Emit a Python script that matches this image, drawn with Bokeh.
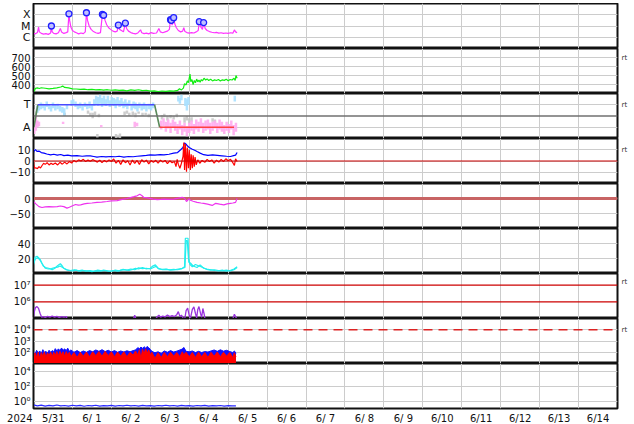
from bokeh.plotting import figure
from bokeh.layouts import column
from bokeh.models import FixedTicker, Span, LinearAxis, Range1d
from bokeh.embed import file_html
from bokeh.resources import INLINE

FONT = "DejaVu Sans"
NB = "\u00a0"

# x axis: days since 2024-05-31 00:00 UT (first label also carries the year)
DAY_LABELS = ["2024" + NB * 3 + "5/31", "6/ 1", "6/ 2", "6/ 3", "6/ 4", "6/ 5", "6/ 6", "6/ 7",
              "6/ 8", "6/ 9", "6/10", "6/11", "6/12", "6/13", "6/14"]
DAY_CENTERS = [0.06, 1.5, 2.5, 3.5, 4.5, 5.5, 6.5, 7.5, 8.5, 9.5, 10.5, 11.5, 12.5, 13.5, 14.5]
DAY_BOUNDS = [1, 2, 3, 4, 5, 6, 7, 8, 9, 10, 11, 12, 13, 14]

# ---- panel 1: X-ray flux (W/m2) ----
XRAY = [(0.00, 2.2e-6), (0.05, 2.0e-6), (0.10, 2.6e-6), (0.13, 8.0e-6), (0.15, 3.0e-6),
        (0.20, 2.2e-6), (0.26, 1.9e-6), (0.32, 2.1e-6), (0.38, 1.8e-6), (0.44, 2.4e-6),
        (0.46, 1.0e-5), (0.48, 3.0e-6), (0.52, 2.2e-6), (0.58, 2.0e-6), (0.64, 2.5e-6),
        (0.69, 6.0e-6), (0.72, 3.0e-6), (0.78, 2.2e-6), (0.84, 2.6e-6), (0.88, 3.0e-6),
        (0.91, 1.2e-4), (0.93, 3.0e-5), (0.96, 8.0e-6), (1.00, 4.0e-6), (1.05, 3.0e-6),
        (1.10, 2.5e-6), (1.16, 2.0e-6), (1.22, 2.4e-6), (1.28, 2.1e-6), (1.33, 3.0e-6),
        (1.36, 1.5e-4), (1.39, 3.0e-5), (1.43, 1.0e-5), (1.48, 5.0e-6), (1.54, 3.2e-6),
        (1.60, 2.5e-6), (1.66, 2.2e-6), (1.72, 2.6e-6), (1.77, 1.1e-4), (1.80, 9.0e-5),
        (1.84, 3.0e-5), (1.88, 1.3e-5), (1.93, 7.0e-6), (1.98, 5.0e-6), (2.04, 3.5e-6),
        (2.10, 3.0e-6), (2.15, 3.5e-6), (2.18, 1.2e-5), (2.21, 5.0e-6), (2.26, 4.0e-6),
        (2.31, 3.0e-6), (2.36, 1.8e-5), (2.39, 6.0e-6), (2.44, 3.5e-6), (2.50, 2.6e-6),
        (2.56, 2.2e-6), (2.62, 2.0e-6), (2.68, 2.4e-6), (2.75, 4.6e-6), (2.78, 2.5e-6),
        (2.84, 2.1e-6), (2.90, 2.3e-6), (2.96, 2.0e-6), (3.02, 2.6e-6), (3.08, 2.2e-6),
        (3.16, 2.4e-6), (3.22, 6.0e-6), (3.26, 3.0e-6), (3.32, 2.5e-6), (3.38, 3.0e-6),
        (3.44, 3.5e-6), (3.49, 5.0e-6), (3.52, 3.6e-5), (3.54, 3.2e-5), (3.56, 1.2e-5),
        (3.60, 5.5e-5), (3.63, 1.5e-5), (3.67, 7.0e-6), (3.72, 4.0e-6), (3.78, 3.0e-6),
        (3.83, 3.5e-6), (3.86, 7.0e-6), (3.89, 3.2e-6), (3.94, 2.6e-6), (4.00, 2.3e-6),
        (4.06, 2.6e-6), (4.12, 2.4e-6), (4.18, 3.0e-6), (4.23, 4.0e-6), (4.26, 2.4e-5),
        (4.30, 8.0e-6), (4.34, 5.0e-6), (4.37, 2.0e-5), (4.41, 6.0e-6), (4.46, 4.0e-6),
        (4.52, 3.2e-6), (4.58, 2.8e-6), (4.64, 2.5e-6), (4.70, 2.7e-6), (4.76, 2.3e-6),
        (4.82, 2.5e-6), (4.88, 2.2e-6), (4.94, 2.4e-6), (5.00, 2.2e-6), (5.06, 2.5e-6),
        (5.12, 2.3e-6), (5.16, 4.5e-6), (5.19, 3.0e-6), (5.23, 2.6e-6)]
FLARES = [(0.46, 1.0e-5), (0.91, 1.2e-4), (1.36, 1.5e-4), (1.77, 1.1e-4), (1.80, 9.0e-5),
          (2.18, 1.2e-5), (2.36, 1.8e-5), (3.52, 3.6e-5), (3.54, 3.2e-5), (3.60, 5.5e-5),
          (4.26, 2.4e-5), (4.37, 2.0e-5)]
XRAY_TICKS = [1e-6, 1e-5, 1e-4]
XRAY_LABELS = ["C", "M", "X"]

# ---- panel 2: solar wind speed (km/s) ----
SPEED = [(0.00, 352), (0.02, 325), (0.05, 358), (0.10, 362), (0.15, 356), (0.20, 364),
         (0.30, 358), (0.40, 352), (0.50, 356), (0.60, 362), (0.70, 372), (0.75, 382),
         (0.80, 368), (0.90, 362), (1.00, 352), (1.10, 350), (1.20, 346), (1.30, 348),
         (1.40, 342), (1.50, 346), (1.60, 340), (1.70, 344), (1.80, 338), (1.90, 342),
         (2.00, 336), (2.10, 340), (2.20, 334), (2.30, 338), (2.40, 330), (2.50, 340),
         (2.60, 334), (2.70, 342), (2.80, 332), (2.90, 336), (3.00, 326), (3.10, 330),
         (3.20, 322), (3.30, 328), (3.40, 324), (3.50, 330), (3.60, 326), (3.70, 334),
         (3.75, 352), (3.80, 340), (3.85, 360), (3.88, 410), (3.92, 395), (3.95, 440),
         (3.98, 420), (4.00, 470), (4.02, 515), (4.04, 430), (4.07, 455), (4.10, 400),
         (4.13, 445), (4.16, 420), (4.19, 460), (4.22, 430), (4.25, 450), (4.28, 425),
         (4.31, 455), (4.34, 440), (4.38, 470), (4.42, 450), (4.46, 462), (4.50, 445),
         (4.55, 458), (4.60, 440), (4.65, 452), (4.70, 445), (4.75, 455), (4.80, 440),
         (4.85, 452), (4.90, 446), (4.95, 458), (5.00, 442), (5.05, 456), (5.10, 450),
         (5.15, 470), (5.18, 445), (5.20, 500), (5.23, 470)]
SPEED_TICKS = [400, 500, 600, 700]
SPEED_LABELS = ["400", "500", "600", "700"]

# ---- panel 3: IMF sector (T = toward, A = away) ----
SECTOR_T = [0.01, 0.11, 3.11, 3.24, 5.15]
SECTOR_V = [-1, 1, 1, -1, -1]
SECTOR_C = ["#5a8a5a", "#4a4aff", "#5a8a5a", "#ff4040"]
PHI_T = [(0.10, 0.3, 0.9), (0.14, 0.5, 1.0), (0.19, 0.6, 1.2), (0.24, 0.7, 1.1), (0.29, 0.5, 1.0),
         (0.34, 0.8, 1.3), (0.40, 0.6, 1.0), (0.45, 0.4, 0.9), (0.50, 0.7, 1.2), (0.56, 0.5, 1.0),
         (0.62, 0.6, 1.1), (0.68, 0.4, 0.9), (0.74, 0.3, 0.8), (0.79, 0.0, 0.7), (0.86, 0.6, 1.0),
         (0.98, 0.9, 1.4), (1.02, 1.0, 1.5), (1.08, 0.8, 1.3), (1.14, 0.6, 1.1), (1.20, 0.7, 1.2),
         (1.26, 0.5, 1.0), (1.32, 0.8, 1.2), (1.38, 0.6, 1.1), (1.44, 0.7, 1.3), (1.50, 0.5, 1.0),
         (1.56, 0.9, 1.5), (1.61, 1.0, 1.8), (1.66, 0.9, 1.7), (1.71, 1.1, 1.9), (1.76, 0.8, 1.6),
         (1.81, 1.0, 1.8), (1.86, 0.9, 1.5), (1.91, 1.1, 1.8), (1.96, 0.8, 1.4), (2.01, 1.0, 1.7),
         (2.06, 0.9, 1.6), (2.11, 0.7, 1.5), (2.16, 1.0, 1.7), (2.21, 0.8, 1.4), (2.26, 0.9, 1.6),
         (2.31, 0.7, 1.3), (2.36, 0.8, 1.5), (2.41, 0.6, 1.2), (2.46, 0.9, 1.4), (2.52, 0.5, 1.1),
         (2.57, 0.7, 1.3), (2.62, 0.6, 1.2), (2.67, 0.4, 1.0), (2.72, 0.7, 1.2), (2.78, 0.5, 1.1),
         (2.84, 0.6, 1.2), (2.90, 0.4, 1.0), (2.96, 0.6, 1.1), (3.02, 0.5, 1.0), (3.07, 0.7, 1.2),
         (3.72, 1.3, 1.8), (3.76, 1.1, 1.6), (3.80, 1.4, 1.9), (3.90, 0.9, 1.6), (3.94, 0.5, 1.5),
         (3.98, 1.0, 1.7), (5.17, 1.3, 1.8)]
PHI_M = [(0.02, 0.1, 0.6), (0.06, -0.1, 0.4), (0.80, 0.0, 0.3), (1.40, 0.2, 0.5), (1.46, 0.0, 0.3),
         (1.52, -0.2, 0.3), (1.58, 0.1, 0.4), (1.64, -1.9, -1.6), (1.68, -0.1, 0.2),
         (2.12, -1.95, -1.6), (2.17, -1.9, -1.7), (2.22, -1.95, -1.55), (2.34, 0.1, 0.4),
         (2.40, 0.2, 0.5), (2.46, 0.0, 0.3), (2.55, 0.1, 0.4), (2.62, -0.1, 0.3), (2.70, 0.2, 0.4),
         (2.80, 0.0, 0.3), (2.88, 0.1, 0.3), (2.96, -0.1, 0.2), (3.30, -0.3, 0.1), (3.36, -0.1, 0.2),
         (3.44, -0.4, 0.0), (3.52, -0.2, 0.1), (3.60, -0.3, 0.0), (3.68, -0.1, 0.2),
         (3.88, -0.6, -0.1), (3.94, -0.4, 0.0), (4.00, -0.7, -0.2), (4.06, -0.5, -0.1),
         (4.60, -0.5, -0.2), (4.66, -0.6, -0.3)]
PHI_A = [(0.02, -1.6, -0.3), (0.06, -1.3, 0.0), (0.10, -1.0, -0.4), (0.14, -0.9, -0.5),
         (0.76, -0.7, -0.5), (1.74, -1.0, -0.8), (2.60, -1.0, -0.5), (2.66, -0.9, -0.6),
         (3.28, -1.2, -0.4), (3.34, -0.9, -0.2), (3.40, -1.4, -0.5), (3.46, -1.1, -0.3),
         (3.52, -1.5, -0.6), (3.58, -1.0, -0.3), (3.64, -1.3, -0.5), (3.70, -1.6, -0.7),
         (3.76, -1.2, -0.4), (3.82, -1.7, -0.8), (3.88, -1.4, -0.6), (3.94, -1.8, -0.9),
         (4.00, -1.5, -0.6), (4.06, -1.3, -0.4), (4.12, -1.6, -0.7), (4.18, -1.2, -0.3),
         (4.24, -1.4, -0.5), (4.30, -1.1, -0.2), (4.36, -1.5, -0.6), (4.42, -1.3, -0.4),
         (4.48, -1.2, -0.3), (4.54, -1.6, -0.6), (4.60, -1.3, -0.5), (4.66, -1.1, -0.4),
         (4.72, -1.5, -0.6), (4.78, -1.2, -0.3), (4.84, -1.4, -0.5), (4.90, -1.6, -0.8),
         (4.96, -1.3, -0.5), (5.02, -1.5, -0.7), (5.08, -1.2, -0.4), (5.14, -1.7, -0.8),
         (5.20, -1.4, -0.6)]
SECTOR_TICKS = [-1, 1]
SECTOR_LABELS = ["A", "T"]

# ---- panel 4: IMF Bt (blue) and Bz (red), nT ----
BT = [(0.00, 7.5), (0.02, 9.5), (0.05, 10.0), (0.09, 8.5), (0.14, 8.8), (0.20, 7.5), (0.27, 7.0),
      (0.34, 6.2), (0.44, 5.5), (0.52, 6.0), (0.61, 5.2), (0.70, 5.8), (0.78, 4.8), (0.88, 5.2),
      (0.98, 4.5), (1.12, 4.8), (1.25, 4.2), (1.36, 4.6), (1.46, 4.5), (1.55, 4.0), (1.63, 3.5),
      (1.75, 4.0), (1.86, 3.6), (1.98, 4.0), (2.10, 3.8), (2.20, 4.2), (2.32, 3.5), (2.44, 4.0),
      (2.56, 3.8), (2.66, 4.2), (2.78, 4.6), (2.90, 5.0), (3.00, 5.5), (3.12, 5.2), (3.25, 5.6),
      (3.35, 5.4), (3.48, 6.0), (3.60, 7.0), (3.70, 7.5), (3.78, 10.0), (3.84, 12.0), (3.88, 16.0),
      (3.92, 15.0), (3.95, 13.5), (4.00, 12.0), (4.08, 10.5), (4.14, 9.5), (4.20, 8.4), (4.28, 7.0),
      (4.37, 5.6), (4.48, 5.0), (4.60, 5.4), (4.72, 5.0), (4.84, 4.6), (4.96, 4.2), (5.06, 4.0),
      (5.14, 4.8), (5.19, 5.2), (5.23, 7.5)]
BZ = [(0.00, 0.5), (0.01, -4.0), (0.03, -6.5), (0.06, -6.0), (0.10, -6.8), (0.14, -5.0),
      (0.18, -6.2), (0.22, -4.0), (0.26, -2.0), (0.30, -3.0), (0.35, -1.5), (0.40, -3.5),
      (0.45, -2.0), (0.50, -3.2), (0.56, -1.8), (0.62, -3.5), (0.68, -1.2), (0.74, -2.8),
      (0.80, -1.0), (0.86, -2.6), (0.92, -0.5), (0.98, -1.8), (1.04, 0.5), (1.10, -0.8),
      (1.16, 1.0), (1.22, 0.0), (1.28, 1.5), (1.34, -0.5), (1.40, 0.8), (1.46, -0.2),
      (1.52, 1.2), (1.58, 0.2), (1.64, -1.0), (1.70, 0.8), (1.76, -1.5), (1.82, 0.5),
      (1.88, -0.8), (1.94, 1.0), (2.00, -0.5), (2.06, 1.8), (2.12, -2.0), (2.18, 0.6),
      (2.24, -3.0), (2.30, 1.0), (2.36, -1.5), (2.42, 0.2), (2.48, -3.5), (2.54, 0.8),
      (2.60, -2.2), (2.66, 0.5), (2.72, -3.0), (2.78, 1.2), (2.84, -1.0), (2.90, 0.8),
      (2.96, -2.5), (3.02, 0.4), (3.08, -1.2), (3.14, 0.6), (3.20, -2.0), (3.26, 0.8),
      (3.32, -1.0), (3.38, 0.5), (3.44, -2.4), (3.50, 0.2), (3.56, -1.5), (3.62, -0.5),
      (3.66, -5.0), (3.69, 1.5), (3.72, -3.0), (3.76, -6.4), (3.80, -2.0), (3.84, 4.0),
      (3.86, 16.5), (3.88, -8.0), (3.90, 15.0), (3.93, -9.5), (3.95, 12.0), (3.98, -6.5),
      (4.00, 10.0), (4.03, -8.0), (4.05, 6.0), (4.08, -6.5), (4.10, 5.0), (4.13, -5.0),
      (4.15, 3.5), (4.18, -3.5), (4.22, 1.0), (4.27, -2.0), (4.33, 0.5), (4.40, -1.2),
      (4.46, 1.5), (4.52, -0.5), (4.58, 1.0), (4.64, -2.0), (4.70, 0.8), (4.76, -1.0),
      (4.82, 1.5), (4.88, -0.6), (4.94, 2.0), (5.00, 0.2), (5.06, 1.5), (5.12, -1.5),
      (5.16, -4.0), (5.19, 2.0), (5.23, -0.5)]
IMF_TICKS = [-10, 0, 10]
IMF_LABELS = ["\u221210", "0", "10"]

# ---- panel 5: Dst (nT) ----
DST = [(0.00, -10), (0.06, -18), (0.14, -27), (0.22, -30), (0.30, -28), (0.40, -27), (0.50, -28),
       (0.61, -27), (0.69, -25), (0.78, -27), (0.86, -32), (0.92, -29), (0.99, -25), (1.08, -20),
       (1.15, -22), (1.21, -21), (1.30, -18), (1.38, -16), (1.50, -15), (1.63, -13), (1.75, -12),
       (1.89, -10), (2.00, -8), (2.15, -7), (2.25, -4), (2.32, -2), (2.40, 0), (2.49, 3),
       (2.58, 6), (2.66, 9), (2.73, 14), (2.78, 10), (2.83, 4), (2.90, 3), (2.96, 1), (3.07, -2),
       (3.18, -4), (3.27, -3), (3.35, -2), (3.45, -3), (3.60, -2), (3.72, 1), (3.82, 4), (3.88, 1),
       (3.93, -10), (3.99, -1), (4.03, -6), (4.10, -9), (4.20, -13), (4.30, -15), (4.37, -16),
       (4.47, -19), (4.59, -23), (4.68, -16), (4.78, -19), (4.89, -21), (4.97, -18), (5.06, -16),
       (5.12, -15), (5.19, -13), (5.23, 0)]
DST_TICKS = [-50, 0]
DST_LABELS = ["\u221250", "0"]

# ---- panel 6: two cyan traces ----
CYAN_A = [(0.00, 14), (0.02, 20), (0.05, 22), (0.09, 23), (0.13, 21), (0.18, 18), (0.22, 13),
          (0.25, 10), (0.31, 8), (0.39, 7), (0.48, 5), (0.55, 7), (0.61, 10), (0.66, 12), (0.69, 13),
          (0.74, 10), (0.78, 7), (0.86, 5), (0.95, 4), (1.05, 5), (1.15, 3.5), (1.25, 4.5), (1.35, 3),
          (1.45, 4), (1.55, 3), (1.65, 4.5), (1.75, 3.5), (1.85, 4), (1.95, 3), (2.05, 4), (2.15, 3),
          (2.25, 4.5), (2.35, 5), (2.45, 4), (2.55, 5.5), (2.62, 7), (2.70, 6), (2.80, 8), (2.90, 6),
          (3.00, 7), (3.05, 9.5), (3.13, 11.5), (3.20, 7), (3.30, 5.5), (3.40, 6), (3.50, 5),
          (3.60, 5.5), (3.70, 5), (3.80, 6), (3.88, 9), (3.90, 47), (3.97, 47), (3.99, 15),
          (4.03, 14), (4.10, 10), (4.20, 8), (4.28, 11.5), (4.37, 7), (4.45, 6), (4.55, 5), (4.65, 4),
          (4.75, 3.5), (4.85, 4.5), (4.95, 3), (5.05, 4), (5.15, 6), (5.23, 9)]
CYAN_B = [(0.00, 12), (0.03, 17), (0.06, 20), (0.10, 21), (0.15, 19), (0.20, 15), (0.25, 11),
          (0.30, 7), (0.38, 6), (0.46, 6.5), (0.55, 8), (0.62, 8.5), (0.68, 10), (0.75, 8),
          (0.82, 5.5), (0.90, 4), (1.00, 3.5), (1.10, 4.5), (1.20, 3), (1.30, 4), (1.40, 3.5),
          (1.50, 2.5), (1.60, 3.5), (1.70, 3), (1.80, 4.5), (1.90, 3.5), (2.00, 3), (2.10, 4.5),
          (2.20, 3.5), (2.30, 5.5), (2.40, 4.5), (2.50, 6), (2.60, 5), (2.70, 7.5), (2.80, 6.5),
          (2.90, 7), (3.00, 6), (3.08, 8), (3.15, 9.5), (3.22, 6), (3.32, 5), (3.42, 5.5),
          (3.52, 4.5), (3.62, 5), (3.72, 6), (3.82, 7), (3.89, 8), (3.92, 44), (3.95, 44),
          (3.98, 20), (4.02, 12), (4.08, 9), (4.16, 12), (4.25, 10), (4.35, 8), (4.45, 5.5),
          (4.55, 4.5), (4.65, 5), (4.75, 4), (4.85, 3.5), (4.95, 4.5), (5.05, 3.5), (5.15, 5),
          (5.23, 8)]
CYAN_TICKS = [20, 40]
CYAN_LABELS = ["20", "40"]

# ---- panel 7: purple trace (log) ----
PURPLE = [(0.00, 1.2e5), (0.02, 2.5e5), (0.05, 4.5e5), (0.09, 5.2e5), (0.13, 4.0e5), (0.17, 2.0e5),
          (0.21, 1.2e5), (0.26, 1.3e5), (0.30, 1.15e5), (0.36, 1.35e5), (0.42, 1.2e5),
          (0.48, 1.4e5), (0.54, 1.2e5), (0.60, 1.35e5), (0.66, 1.15e5), (0.72, 1.3e5),
          (0.78, 1.2e5), (0.84, 1.3e5), (0.88, 8e4), (1.50, 6e4), (2.55, 7e4), (2.60, 1.6e5),
          (2.64, 8e4), (3.10, 7e4), (3.18, 1.3e5), (3.22, 1.6e5), (3.26, 1.2e5), (3.32, 1.4e5),
          (3.38, 1.25e5), (3.44, 1.6e5), (3.50, 1.3e5), (3.56, 1.5e5), (3.62, 1.3e5),
          (3.68, 1.7e5), (3.72, 2.6e5), (3.76, 1.3e5), (3.80, 1.6e5), (3.84, 1.1e5), (3.88, 8e4),
          (3.92, 3.0e5), (3.96, 4.2e5), (4.00, 1.5e5), (4.03, 1.0e5), (4.08, 3.5e5), (4.12, 5.0e5),
          (4.16, 2.0e5), (4.19, 1.1e5), (4.22, 3.5e5), (4.25, 5.2e5), (4.29, 2.0e5), (4.32, 1.2e5),
          (4.35, 4.0e5), (4.38, 2.0e5), (4.41, 8e4), (5.10, 7e4), (5.16, 1.8e5), (5.19, 1.3e5),
          (5.23, 9e4)]
PURPLE_TICKS = [1e6, 1e7]
PURPLE_LABELS = ["10\u2076", "10\u2077"]

# ---- panel 8: blue / red flux (log) ----
FLUX = [(0.00, 110, 35), (0.04, 70, 90), (0.08, 150, 40), (0.12, 90, 100), (0.16, 130, 30),
        (0.20, 80, 95), (0.24, 170, 45), (0.28, 95, 110), (0.32, 120, 35), (0.36, 85, 90),
        (0.40, 150, 50), (0.44, 100, 105), (0.48, 140, 40), (0.52, 110, 100), (0.56, 210, 55),
        (0.60, 130, 115), (0.64, 200, 50), (0.68, 140, 120), (0.72, 240, 60), (0.76, 150, 110),
        (0.80, 200, 45), (0.84, 140, 115), (0.88, 230, 55), (0.92, 120, 100), (0.96, 160, 40),
        (1.04, 100, 95), (1.12, 140, 35), (1.20, 95, 100), (1.28, 130, 45), (1.36, 100, 105),
        (1.44, 140, 40), (1.52, 110, 110), (1.60, 160, 50), (1.68, 120, 115), (1.76, 170, 45),
        (1.84, 115, 120), (1.92, 150, 50), (2.00, 105, 110), (2.08, 140, 40), (2.16, 100, 105),
        (2.24, 130, 45), (2.32, 105, 110), (2.40, 135, 40), (2.48, 110, 100), (2.56, 140, 55),
        (2.62, 160, 130), (2.68, 260, 60), (2.72, 200, 170), (2.76, 290, 25), (2.80, 220, 180),
        (2.84, 310, 70), (2.88, 230, 200), (2.92, 330, 80), (2.96, 250, 160), (3.00, 180, 60),
        (3.04, 120, 100), (3.12, 90, 30), (3.20, 110, 90), (3.28, 80, 35), (3.36, 130, 95),
        (3.44, 100, 40), (3.52, 140, 100), (3.60, 105, 45), (3.68, 125, 95), (3.76, 160, 40),
        (3.82, 190, 110), (3.86, 270, 60), (3.92, 120, 100), (4.00, 110, 40), (4.08, 130, 95),
        (4.16, 95, 35), (4.24, 120, 100), (4.32, 95, 40), (4.40, 115, 95), (4.48, 105, 35),
        (4.56, 130, 100), (4.64, 160, 45), (4.72, 120, 105), (4.80, 165, 40), (4.88, 125, 100),
        (4.96, 150, 45), (5.04, 115, 95), (5.12, 95, 35), (5.16, 130, 90), (5.20, 80, 40)]
FLUX_TICKS = [1e2, 1e3, 1e4]
FLUX_LABELS = ["10\u00b2", "10\u00b3", "10\u2074"]

# ---- panel 9: low blue trace (log) ----
LOW = [(0.0, 0.30), (0.1, 0.22), (0.2, 0.28), (0.3, 0.21), (0.4, 0.26), (0.5, 0.22), (0.6, 0.29),
       (0.7, 0.23), (0.8, 0.25), (0.9, 0.21), (1.0, 0.27), (1.1, 0.22), (1.2, 0.26), (1.3, 0.20),
       (1.4, 0.25), (1.5, 0.22), (1.6, 0.27), (1.7, 0.21), (1.8, 0.24), (1.9, 0.22), (2.0, 0.26),
       (2.1, 0.21), (2.2, 0.25), (2.3, 0.22), (2.4, 0.27), (2.5, 0.23), (2.6, 0.25), (2.7, 0.21),
       (2.8, 0.26), (2.9, 0.22), (3.0, 0.24), (3.1, 0.21), (3.2, 0.25), (3.3, 0.22), (3.4, 0.27),
       (3.5, 0.23), (3.6, 0.25), (3.7, 0.21), (3.8, 0.26), (3.9, 0.22), (4.0, 0.24), (4.1, 0.21),
       (4.2, 0.25), (4.3, 0.22), (4.4, 0.26), (4.5, 0.21), (4.6, 0.24), (4.7, 0.22), (4.8, 0.25),
       (4.9, 0.21), (5.0, 0.24), (5.1, 0.22), (5.2, 0.23)]
LOW_TICKS = [1e0, 1e2, 1e4]
LOW_LABELS = ["10\u2070", "10\u00b2", "10\u2074"]


def cols(rows):
    return [list(c) for c in zip(*rows)]


GRID = "#cccccc"
EDGE = "#111111"


def panel(yr, ticks, labels, log=False, last=False, label_size="10px"):
    p = figure(frame_width=584, frame_height=45,
               x_range=Range1d(0, 15), y_range=Range1d(*yr),
               y_axis_type="log" if log else "linear",
               output_backend="svg", toolbar_location=None,
               min_border_left=27, min_border_right=13, min_border_top=0,
               min_border_bottom=16 if last else 0)
    p.background_fill_color = "white"
    p.border_fill_color = "white"
    p.outline_line_color = EDGE
    p.outline_line_width = 2
    p.xgrid.ticker = FixedTicker(ticks=DAY_BOUNDS)
    p.xgrid.grid_line_color = GRID
    p.ygrid.ticker = FixedTicker(ticks=ticks)
    p.ygrid.grid_line_color = GRID
    ya = p.yaxis[0]
    ya.ticker = FixedTicker(ticks=ticks)
    ya.major_label_overrides = dict(zip(ticks, labels))
    ya.major_tick_line_color = None
    ya.minor_tick_line_color = None
    ya.major_tick_out = 0
    ya.major_tick_in = 0
    ya.minor_tick_out = 0
    ya.axis_line_color = EDGE
    ya.major_label_standoff = 3
    ya.major_label_text_font = FONT
    ya.major_label_text_font_size = label_size
    ya.major_label_text_color = "#111111"
    xa = p.xaxis[0]
    if last:
        xa.ticker = FixedTicker(ticks=DAY_CENTERS)
        xa.major_label_overrides = dict(zip(DAY_CENTERS, DAY_LABELS))
        xa.major_tick_line_color = None
        xa.minor_tick_line_color = None
        xa.major_tick_out = 0
        xa.major_tick_in = 0
        xa.minor_tick_out = 0
        xa.axis_line_color = None
        xa.major_label_standoff = 4
        xa.major_label_text_font = FONT
        xa.major_label_text_font_size = "10px"
        xa.major_label_text_color = "#111111"
    else:
        xa.visible = False
    return p


def add_rt(p, tick):
    ax = LinearAxis(ticker=FixedTicker(ticks=[tick]), major_label_overrides={tick: "rt"},
                    axis_line_color=None, major_tick_line_color=None,
                    minor_tick_line_color=None, major_tick_out=0, major_tick_in=0,
                    minor_tick_out=0, major_label_standoff=4,
                    major_label_text_font=FONT, major_label_text_font_size="7px",
                    major_label_text_color="#333333")
    p.add_layout(ax, "right")


# panel 1
p1 = panel((1e-7, 1e-3), XRAY_TICKS, XRAY_LABELS, log=True, label_size="11px")
t, f = cols(XRAY)
p1.line(t, f, line_color="#ff33ff", line_width=1.2)
t, f = cols(FLARES)
p1.scatter(t, f, marker="circle", size=6, fill_color="#c0c0ff", line_color="#2020ff", line_width=1.3)

# panel 2
p2 = panel((300, 800), SPEED_TICKS, SPEED_LABELS)
t, v = cols(SPEED)
p2.line(t, v, line_color="#11ee11", line_width=1.2)
add_rt(p2, 700)

# panel 3
p3 = panel((-2, 2), SECTOR_TICKS, SECTOR_LABELS, label_size="11px")
for rows, colr in ((PHI_M, "#c8c8c8"), (PHI_A, "#ffaaee"), (PHI_T, "#a8e0ff")):
    t, lo, hi = cols(rows)
    p3.segment(x0=t, y0=lo, x1=t, y1=hi, line_color=colr, line_width=2.5, line_alpha=0.9)
p3.add_layout(Span(location=0, dimension="width", line_color="#707070", line_width=1.5))
p3.segment(x0=SECTOR_T[:-1], y0=SECTOR_V[:-1], x1=SECTOR_T[1:], y1=SECTOR_V[1:],
           line_color=SECTOR_C, line_width=1.6)
add_rt(p3, 1)

# panel 4
p4 = panel((-20, 20), IMF_TICKS, IMF_LABELS)
p4.add_layout(Span(location=0, dimension="width", line_color="#cc0000", line_width=1.2))
t, v = cols(BT)
p4.line(t, v, line_color="#0000ff", line_width=1.2)
t, v = cols(BZ)
p4.line(t, v, line_color="#ff0000", line_width=1.2)
add_rt(p4, 10)

# panel 5
p5 = panel((-100, 50), DST_TICKS, DST_LABELS)
p5.add_layout(Span(location=0, dimension="width", line_color="#c86464", line_width=3,
                   level="underlay"))
t, v = cols(DST)
p5.line(t, v, line_color="#ee33ee", line_width=1.2)

# panel 6
p6 = panel((0, 60), CYAN_TICKS, CYAN_LABELS)
t, v = cols(CYAN_B)
p6.line(t, v, line_color="#22eeee", line_width=1.2)
t, v = cols(CYAN_A)
p6.line(t, v, line_color="#22eeee", line_width=1.2)

# panel 7
p7 = panel((1e5, 5e7), PURPLE_TICKS, PURPLE_LABELS, log=True)
p7.ygrid.grid_line_color = None
for loc in PURPLE_TICKS:
    p7.add_layout(Span(location=loc, dimension="width", line_color="#cc0000", line_width=1.2))
t, v = cols(PURPLE)
p7.line(t, v, line_color="#9933dd", line_width=1.3)
add_rt(p7, 1.6e7)

# panel 8
p8 = panel((10, 1e5), FLUX_TICKS, FLUX_LABELS, log=True)
p8.add_layout(Span(location=1e4, dimension="width", line_color="#dd2222", line_width=1.5,
                   line_dash="9 6"))
t, b, r = cols(FLUX)
p8.varea(x=t, y1=[5] * len(t), y2=b, fill_color="#1010ff")
p8.line(t, b, line_color="#1010ff", line_width=1)
p8.varea(x=t, y1=[5] * len(t), y2=r, fill_color="#ff0000")
p8.line(t, r, line_color="#ff0000", line_width=1)
add_rt(p8, 1e4)

# panel 9
p9 = panel((0.1, 1e5), LOW_TICKS, LOW_LABELS, log=True, last=True)
t, v = cols(LOW)
p9.line(t, v, line_color="#2a2aff", line_width=1.2)

root = column(p1, p2, p3, p4, p5, p6, p7, p8, p9, spacing=0,
              styles={"margin-top": "3px", "margin-bottom": "-8px", "margin-left": "6px"})

open("out.html", "w").write(file_html(root, INLINE))
